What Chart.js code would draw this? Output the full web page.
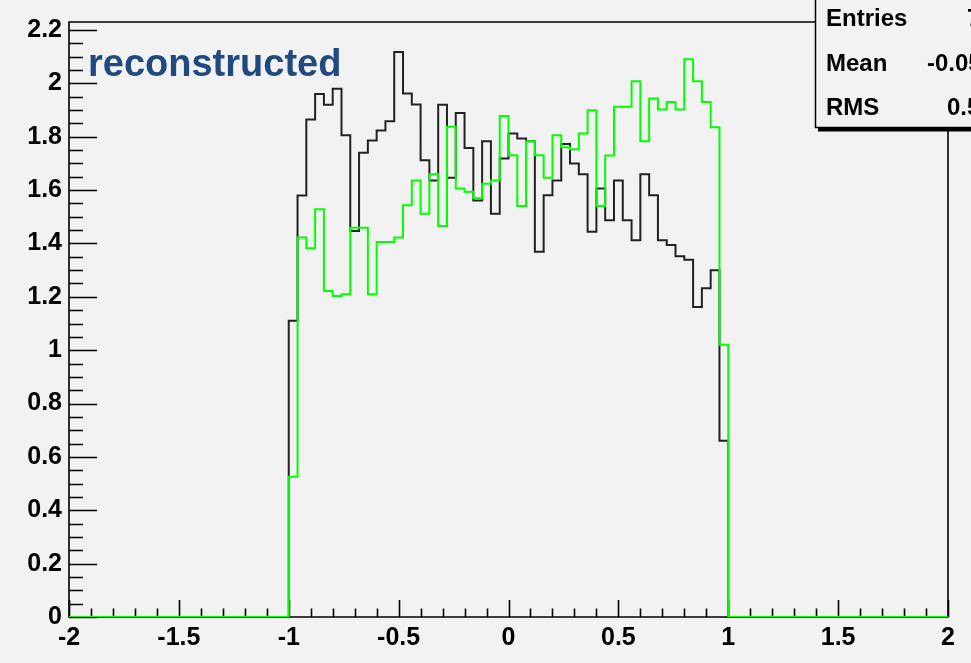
<!DOCTYPE html>
<html>
<head>
<meta charset="utf-8">
<script src="https://cdn.jsdelivr.net/npm/chart.js@4.4.1/dist/chart.umd.min.js"></script>
<style>
  html, body { margin: 0; padding: 0; background: #f2f2f2; }
  #wrap { width: 971px; height: 663px; position: relative; overflow: hidden; }
</style>
</head>
<body>
<div id="wrap"><canvas id="c" width="971" height="663"></canvas></div>
<script>
// Histogram binning: 50 filled bins of width 0.04 starting at x = -1
const xMin = -2, xMax = 2;
const binLow = -1.0, binWidth = 0.04;

// Bin contents, black histogram
const blackCounts = [
  1.11, 1.58, 1.865, 1.96, 1.92, 1.98, 1.806, 1.447, 1.74, 1.786,
  1.823, 1.858, 2.118, 1.962, 1.921, 1.712, 1.636, 1.92, 1.646, 1.889,
  1.758, 1.561, 1.783, 1.511, 1.718, 1.812, 1.793, 1.783, 1.369, 1.581,
  1.636, 1.773, 1.70, 1.659, 1.444, 1.606, 1.487, 1.636, 1.487, 1.412,
  1.659, 1.581, 1.412, 1.394, 1.352, 1.339, 1.162, 1.232, 1.30, 0.661
];

// Bin contents, green histogram
const greenCounts = [
  0.526, 1.422, 1.382, 1.528, 1.222, 1.203, 1.210, 1.459, 1.459, 1.210,
  1.405, 1.405, 1.422, 1.543, 1.636, 1.511, 1.659, 1.465, 1.837, 1.606,
  1.594, 1.569, 1.624, 1.636, 1.878, 1.731, 1.540, 1.783, 1.731, 1.646,
  1.806, 1.761, 1.753, 1.812, 1.899, 1.540, 1.730, 1.912, 1.912, 2.008,
  1.783, 1.943, 1.902, 1.930, 1.902, 2.090, 2.008, 1.930, 1.836, 1.020
];

const xTickValues = [-2, -1.5, -1, -0.5, 0, 0.5, 1, 1.5, 2];
const yTickValues = [0, 0.2, 0.4, 0.6, 0.8, 1, 1.2, 1.4, 1.6, 1.8, 2, 2.2];
const yMax = 2.23;

const histTitle = 'reconstructed';
const statLabels = ['Entries', 'Mean', 'RMS'];
const statValues = ['7488', '-0.0512', '0.5437'];

// Turn bin contents into a step outline: zero from xMin, the bins, zero to xMax
function stepPoints(counts) {
  const pts = [{ x: xMin, y: 0 }];
  counts.forEach((v, i) => pts.push({ x: +(binLow + i * binWidth).toFixed(4), y: v }));
  pts.push({ x: +(binLow + counts.length * binWidth).toFixed(4), y: 0 });
  pts.push({ x: xMax, y: 0 });
  return pts;
}

const fmt = v => String(Math.round(v * 10) / 10);
const tickFont = { family: 'Liberation Sans', weight: 'bold', size: 25 };

// Frame, inward major/minor ticks (ROOT style), drawn under the histograms
const framePlugin = {
  id: 'frame',
  beforeDatasetsDraw(chart) {
    const { ctx, chartArea: a, scales: { x, y } } = chart;
    ctx.save();
    ctx.strokeStyle = '#000';
    ctx.lineWidth = 1.6;
    ctx.beginPath();
    ctx.rect(a.left, a.top, a.right - a.left, a.bottom - a.top);
    ctx.stroke();
    ctx.beginPath();
    for (let k = 0; k <= 40; k++) {
      const v = xMin + k * 0.1;
      const px = Math.round(x.getPixelForValue(v)) + 0.5;
      const len = (k % 5 === 0) ? 17 : 8.5;
      ctx.moveTo(px, a.bottom);
      ctx.lineTo(px, a.bottom - len);
    }
    for (let k = 0; k * 0.05 <= yMax; k++) {
      const v = k * 0.05;
      const py = Math.round(y.getPixelForValue(v)) + 0.5;
      const len = (k % 4 === 0) ? 28 : 14;
      ctx.moveTo(a.left, py);
      ctx.lineTo(a.left + len, py);
    }
    ctx.stroke();
    ctx.restore();
  },
  afterDraw(chart) {
    const { ctx } = chart;
    ctx.save();
    // title
    ctx.fillStyle = '#1e4a80';
    ctx.font = 'bold 38px "Liberation Sans"';
    ctx.textBaseline = 'alphabetic';
    ctx.fillText(histTitle, 88, 76);
    // statistics box with shadow
    const bx = 815.5, by = -2, bw = 200, bh = 129.5;
    ctx.fillStyle = '#000';
    ctx.fillRect(bx + 2.5, by + 3, bw, bh + 1);
    ctx.fillStyle = '#f2f2f2';
    ctx.fillRect(bx, by, bw, bh);
    ctx.strokeStyle = '#000';
    ctx.lineWidth = 1.5;
    ctx.strokeRect(bx, by, bw, bh);
    ctx.fillStyle = '#000';
    ctx.font = 'bold 24px "Liberation Sans"';
    const baselines = [26, 71, 115];
    const valueX = [967, 927, 947];
    statLabels.forEach((t, i) => {
      ctx.fillText(t, 826, baselines[i]);
      ctx.fillText(statValues[i], valueX[i], baselines[i]);
    });
    ctx.restore();
  }
};

new Chart(document.getElementById('c'), {
  type: 'line',
  data: {
    datasets: [
      { data: stepPoints(greenCounts), borderColor: '#00ff00', borderWidth: 2,
        pointRadius: 0, stepped: 'before', fill: false },
      { data: stepPoints(blackCounts), borderColor: '#222222', borderWidth: 2,
        pointRadius: 0, stepped: 'before', fill: false }
    ]
  },
  options: {
    responsive: false,
    animation: false,
    devicePixelRatio: 1,
    layout: { padding: { left: 0, right: 23, top: 21, bottom: 0 } },
    plugins: { legend: { display: false }, tooltip: { enabled: false } },
    scales: {
      x: {
        type: 'linear', min: xMin, max: xMax,
        grid: { display: false, drawTicks: false },
        border: { display: false },
        afterBuildTicks: s => { s.ticks = xTickValues.map(v => ({ value: v })); },
        afterFit: s => { s.height = 46; },
        ticks: { padding: 6, color: '#000', font: tickFont, maxRotation: 0, autoSkip: false,
                 callback: v => fmt(v) }
      },
      y: {
        type: 'linear', min: 0, max: yMax,
        grid: { display: false, drawTicks: false },
        border: { display: false },
        afterBuildTicks: s => { s.ticks = yTickValues.map(v => ({ value: v })); },
        afterFit: s => { s.width = 69; },
        ticks: { padding: 7, color: '#000', font: tickFont, autoSkip: false,
                 callback: v => fmt(v) }
      }
    }
  },
  plugins: [framePlugin]
});
</script>
</body>
</html>
